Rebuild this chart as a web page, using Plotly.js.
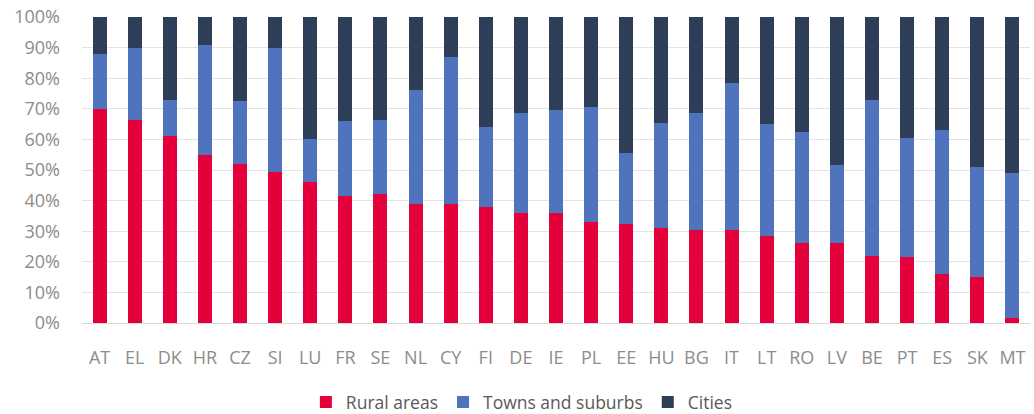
<!DOCTYPE html>
<html>
<head>
<meta charset="utf-8">
<script src="https://cdn.plot.ly/plotly-3.0.1.min.js"></script>
<style>html,body{margin:0;padding:0;background:#fff;}#chart{width:1034px;height:414px;}</style>
</head>
<body>
<div id="chart"></div>
<script>
const countries = ["AT","EL","DK","HR","CZ","SI","LU","FR","SE","NL","CY","FI","DE","IE","PL","EE","HU","BG","IT","LT","RO","LV","BE","PT","ES","SK","MT"];
const rural = [70,66.5,61,55,52,49.5,46,41.5,42,39,39,38,36,36,33,32.5,31,30.5,30.5,28.5,26,26,22,21.5,16,15,1.5];
const towns = [18,23.5,12,36,20.5,40.5,14,24.5,24.5,37,48,26,32.5,33.5,37.5,23,34.5,38,48,36.5,36.5,25.5,51,39,47,36,47.5];
const cities = [12,10,27,9,27.5,10,40,34,33.5,24,13,36,31.5,30.5,29.5,44.5,34.5,31.5,21.5,35,37.5,48.5,27,39.5,37,49,51];
const seriesNames = ["Rural areas","Towns and suburbs","Cities"];
const colors = ["#E4003B","#4F73BD","#2E3E58"];

const data = [rural, towns, cities].map((vals, i) => ({
  type: "bar",
  x: countries,
  y: vals,
  name: seriesNames[i],
  marker: {color: colors[i], line: {width: 0}},
  hoverinfo: "x+y+name"
}));

const layout = {
  width: 1034,
  height: 414,
  barmode: "stack",
  bargap: 0.6,
  margin: {l: 82, r: 4, t: 17, b: 91, autoexpand: false},
  paper_bgcolor: "#ffffff",
  plot_bgcolor: "#ffffff",
  font: {family: "Open Sans, Liberation Sans, sans-serif", color: "#8C8C8C", size: 18},
  xaxis: {
    type: "category",
    automargin: false,
    showgrid: false,
    showline: true,
    linecolor: "#D9D9D9",
    linewidth: 1,
    ticks: "",
    tickfont: {size: 18, color: "#8C8C8C"},
    ticklabelstandoff: 18,
    fixedrange: true
  },
  yaxis: {
    range: [0, 100],
    dtick: 10,
    ticksuffix: "%",
    automargin: false,
    showgrid: true,
    gridcolor: "#E3E3E3",
    gridwidth: 1,
    zeroline: false,
    showline: false,
    ticks: "",
    tickfont: {size: 18, color: "#8C8C8C"},
    ticklabelstandoff: 21,
    fixedrange: true
  },
  showlegend: true,
  legend: {
    orientation: "h",
    x: 0.464,
    xanchor: "center",
    y: -0.2,
    yanchor: "top",
    font: {size: 17.5, color: "#595959"},
    traceorder: "normal",
    itemwidth: 30
  }
};

Plotly.newPlot("chart", data, layout, {displayModeBar: false, staticPlot: true});
</script>
</body>
</html>
